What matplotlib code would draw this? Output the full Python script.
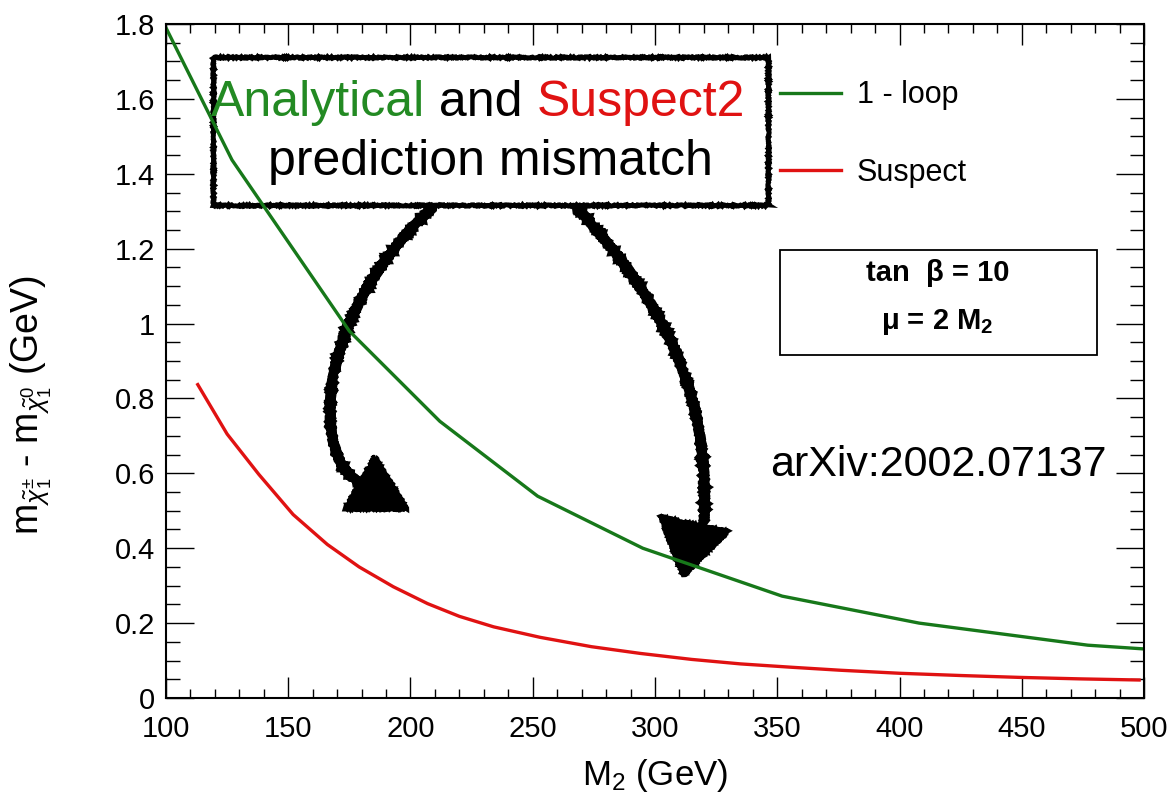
import numpy as np
import matplotlib
matplotlib.use("Agg")
import matplotlib.pyplot as plt
from matplotlib.patches import Rectangle, PathPatch, Polygon
from matplotlib.path import Path
from matplotlib.ticker import MultipleLocator, FuncFormatter

plt.rcParams['font.family'] = ['Liberation Sans', 'DejaVu Sans']
plt.rcParams['mathtext.fontset'] = 'custom'
plt.rcParams['mathtext.rm'] = 'Liberation Sans'
plt.rcParams['mathtext.it'] = 'Liberation Sans:italic'
plt.rcParams['mathtext.bf'] = 'Liberation Sans:bold'

# 1-loop (analytical) curve
m2_loop = [100, 127, 175, 212, 252, 295, 352, 408, 477, 500]
dm_loop = [1.79, 1.437, 0.98, 0.739, 0.539, 0.40, 0.272, 0.20, 0.141, 0.131]

# Suspect curve
m2_susp = [113, 125, 138, 152, 166, 179, 193, 207, 220, 234, 253, 274, 294,
           315, 335, 356, 376, 400, 425, 449, 474, 498]
dm_susp = [0.837, 0.705, 0.597, 0.49, 0.41, 0.35, 0.297, 0.252, 0.218, 0.19,
           0.162, 0.137, 0.119, 0.103, 0.091, 0.082, 0.074, 0.066, 0.06,
           0.055, 0.051, 0.048]

GREEN = '#17781a'
RED = '#e01212'

fig = plt.figure(figsize=(11.73, 8.1), dpi=100)
ax = fig.add_axes([0.1415, 0.1383, 0.8338, 0.832])

ax.plot(m2_loop, dm_loop, color=GREEN, lw=2.4, label='1 - loop',
        solid_joinstyle='round')
ax.plot(m2_susp, dm_susp, color=RED, lw=2.4, label='Suspect',
        solid_joinstyle='round')

ax.set_xlim(100, 500)
ax.set_ylim(0, 1.8)
ax.xaxis.set_major_locator(MultipleLocator(50))
ax.xaxis.set_minor_locator(MultipleLocator(10))
ax.yaxis.set_major_locator(MultipleLocator(0.2))
ax.yaxis.set_minor_locator(MultipleLocator(0.05))
ax.yaxis.set_major_formatter(FuncFormatter(lambda v, p: '%g' % round(v, 2)))

ax.tick_params(which='both', direction='in', top=True, right=True, width=1.0,
               labelsize=21)
ax.tick_params(axis='y', which='major', length=20, pad=8)
ax.tick_params(axis='y', which='minor', length=10)
ax.tick_params(axis='x', which='major', length=15, pad=12)
ax.tick_params(axis='x', which='minor', length=6.5)
for s in ax.spines.values():
    s.set_linewidth(1.5)

ax.set_xlabel(r'M$_2$ (GeV)', fontsize=25)
ax.xaxis.set_label_coords(0.5, -0.088)
ax.set_ylabel(r'm$_{\tilde{\chi}^{\pm}_{1}}$ - m$_{\tilde{\chi}^{0}_{1}}$ (GeV)', fontsize=27)
ax.yaxis.set_label_coords(-0.115, 0.435)

leg = ax.legend(loc='center left', bbox_to_anchor=(0.628, 0.837), frameon=False,
                fontsize=22, handlelength=2.0, handletextpad=0.5,
                labelspacing=1.55, borderpad=0, borderaxespad=0)

# parameter box
ax.add_patch(Rectangle((0.628, 0.509), 0.324, 0.156, transform=ax.transAxes,
                       fill=False, ec='black', lw=1.3))
ax.text(0.789, 0.631, 'tan  β = 10', transform=ax.transAxes, ha='center',
        va='center', fontsize=21, fontweight='bold')
ax.text(0.789, 0.558, r'μ = 2 M$_{\mathbf{2}}$', transform=ax.transAxes,
        ha='center', va='center', fontsize=21, fontweight='bold')

ax.text(0.618, 0.345, 'arXiv:2002.07137', transform=ax.transAxes, ha='left',
        va='center', fontsize=31)

# hand-drawn annotation box
box = Rectangle((119.2, 1.317), 227.0, 0.395, fill=False, ec='black', lw=3.5)
box.set_sketch_params(0.7, 1.5, 2)
ax.add_patch(box)
t_and = ax.text(228.8, 1.59, ' and ', ha='center', va='center', fontsize=36)
ax.annotate('Analytical', xy=(0, 0), xycoords=t_and, ha='right', va='bottom',
            fontsize=36, color='#238a23')
ax.annotate('Suspect2', xy=(1, 0), xycoords=t_and, ha='left', va='bottom',
            fontsize=36, color=RED)
ax.text(232.5, 1.432, 'prediction mismatch', ha='center', va='center', fontsize=36)

codes = [Path.MOVETO, Path.CURVE4, Path.CURVE4, Path.CURVE4]
arrow1 = Path([(209, 1.31), (158, 1.0), (160, 0.62), (181, 0.57)], codes)
arrow2 = Path([(268, 1.31), (312, 1.0), (322, 0.75), (320, 0.47)], codes)
for p in (arrow1, arrow2):
    pp = PathPatch(p, fill=False, ec='black', lw=7, capstyle='round')
    pp.set_sketch_params(0.8, 1.5, 2)
    ax.add_patch(pp)

head1 = Polygon([(185.5, 0.645), (173, 0.504), (198.6, 0.504)], closed=True,
                fc='black', ec='black', lw=3)
head2 = Polygon([(302, 0.485), (330, 0.445), (311.5, 0.325)], closed=True,
                fc='black', ec='black', lw=3)
for h in (head1, head2):
    h.set_sketch_params(0.8, 1.5, 2)
    ax.add_patch(h)

fig.savefig('out.png', dpi=100)
